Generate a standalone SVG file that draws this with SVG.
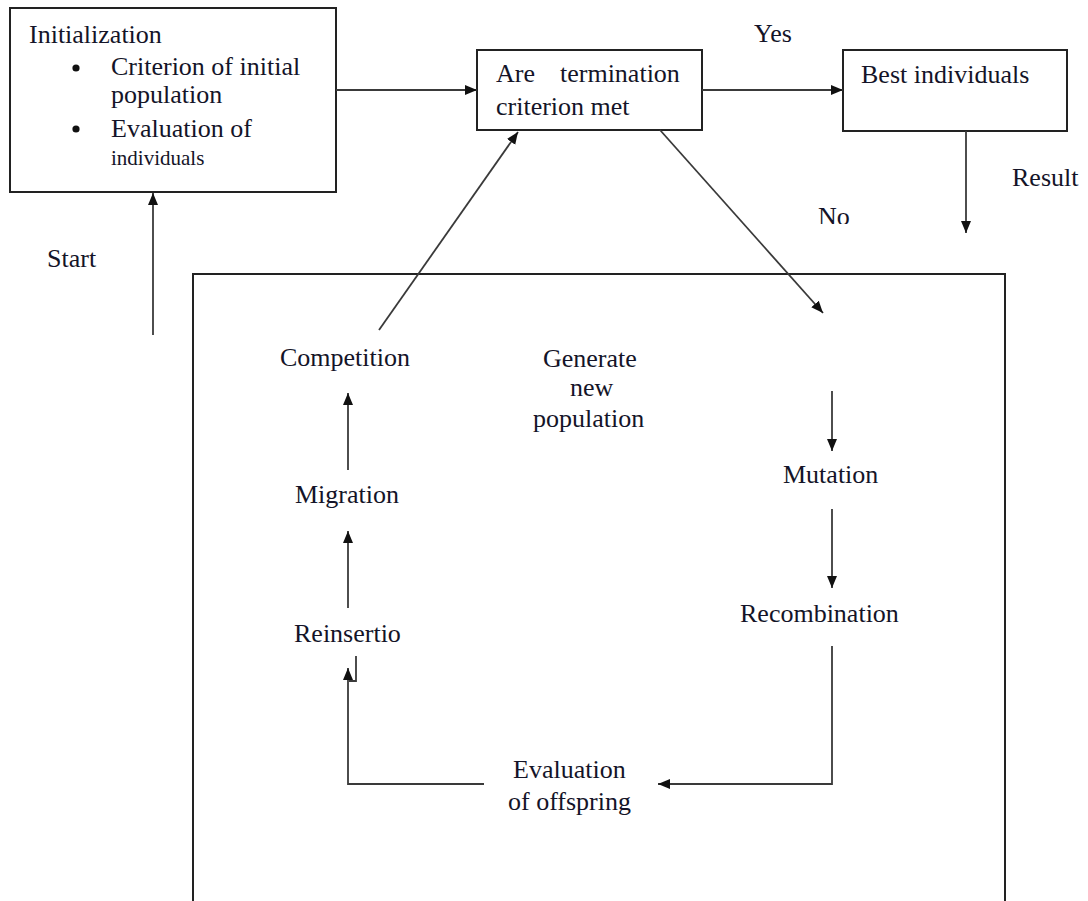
<svg xmlns="http://www.w3.org/2000/svg" width="1088" height="901" viewBox="0 0 1088 901">
  <style>
    .box { fill: #ffffff; stroke: #222222; stroke-width: 2; }
    .frame { fill: none; stroke: #222222; stroke-width: 2; }
    .edge { fill: none; stroke: #3a3a3a; stroke-width: 1.8; }
  </style>
  <defs>
    <marker id="arrow" markerUnits="userSpaceOnUse" markerWidth="12" markerHeight="12" refX="12" refY="6" orient="auto">
      <path d="M0,1 L12,6 L0,11 z" fill="#111111"/>
    </marker>
    <clipPath id="clipNo">
      <rect x="800" y="190" width="80" height="34"/>
    </clipPath>
  </defs>

  <rect width="1088" height="901" fill="#ffffff"/>

  <!-- outer frame around the generation loop (open at the bottom) -->
  <path class="frame" d="M193,905 V274 H1005 V905"/>

  <!-- initialization box -->
  <g id="init">
    <rect class="box" x="10" y="8" width="326" height="184"/>
    <text font-family="Liberation Serif" font-size="26" fill="#141428" x="29" y="43">Initialization</text>
    <circle cx="76" cy="68" r="3.6" fill="#111111"/>
    <text font-family="Liberation Serif" font-size="26" fill="#141428" x="111" y="75">Criterion of initial</text>
    <text font-family="Liberation Serif" font-size="26" fill="#141428" x="111" y="103">population</text>
    <circle cx="76" cy="129" r="3.6" fill="#111111"/>
    <text font-family="Liberation Serif" font-size="26" fill="#141428" x="111" y="137">Evaluation of</text>
    <text font-family="Liberation Serif" font-size="21" fill="#141428" x="111" y="165">individuals</text>
  </g>

  <!-- termination test -->
  <g id="termination">
    <rect class="box" x="477" y="50" width="225" height="80"/>
    <text font-family="Liberation Serif" font-size="26" fill="#141428" x="496" y="82">Are</text>
    <text font-family="Liberation Serif" font-size="26" fill="#141428" x="560" y="82">termination</text>
    <text font-family="Liberation Serif" font-size="26" fill="#141428" x="496" y="115">criterion met</text>
  </g>

  <!-- best individuals -->
  <g id="best">
    <rect class="box" x="843" y="50" width="224" height="81"/>
    <text font-family="Liberation Serif" font-size="26" fill="#141428" x="861" y="83">Best individuals</text>
  </g>

  <!-- loop steps -->
  <g id="competition"><text font-family="Liberation Serif" font-size="26" fill="#141428" x="280" y="366">Competition</text></g>
  <g id="generate">
    <text font-family="Liberation Serif" font-size="26" fill="#141428" x="543" y="367">Generate</text>
    <text font-family="Liberation Serif" font-size="26" fill="#141428" x="570" y="396">new</text>
    <text font-family="Liberation Serif" font-size="26" fill="#141428" x="533" y="427">population</text>
  </g>
  <g id="migration"><text font-family="Liberation Serif" font-size="26" fill="#141428" x="295" y="503">Migration</text></g>
  <g id="reinsertion"><text font-family="Liberation Serif" font-size="26" fill="#141428" x="294" y="642">Reinsertio</text></g>
  <g id="mutation"><text font-family="Liberation Serif" font-size="26" fill="#141428" x="783" y="483">Mutation</text></g>
  <g id="recombination"><text font-family="Liberation Serif" font-size="26" fill="#141428" x="740" y="622">Recombination</text></g>
  <g id="evaluation">
    <text font-family="Liberation Serif" font-size="26" fill="#141428" x="513" y="778">Evaluation</text>
    <text font-family="Liberation Serif" font-size="26" fill="#141428" x="508" y="810">of offspring</text>
  </g>

  <!-- edge labels -->
  <g id="labels">
    <text font-family="Liberation Serif" font-size="26" fill="#141428" x="754" y="42">Yes</text>
    <text font-family="Liberation Serif" font-size="26" fill="#141428" x="1012" y="186">Result</text>
    <text font-family="Liberation Serif" font-size="26" fill="#141428" x="818" y="225" clip-path="url(#clipNo)">No</text>
    <text font-family="Liberation Serif" font-size="26" fill="#141428" x="47" y="267">Start</text>
  </g>

  <!-- connectors -->
  <g id="connectors">
    <line class="edge" x1="336" y1="90" x2="477" y2="90" marker-end="url(#arrow)"/>
    <line class="edge" x1="702" y1="90" x2="843" y2="90" marker-end="url(#arrow)"/>
    <line class="edge" x1="966" y1="131" x2="966" y2="233" marker-end="url(#arrow)"/>
    <line class="edge" x1="153" y1="335" x2="153" y2="193" marker-end="url(#arrow)"/>
    <line class="edge" x1="379" y1="330" x2="518" y2="132" marker-end="url(#arrow)"/>
    <line class="edge" x1="660" y1="130" x2="823" y2="313" marker-end="url(#arrow)"/>
    <line class="edge" x1="832" y1="391" x2="832" y2="451" marker-end="url(#arrow)"/>
    <line class="edge" x1="832" y1="509" x2="832" y2="588" marker-end="url(#arrow)"/>
    <polyline class="edge" points="832,646 832,784 658,784" marker-end="url(#arrow)"/>
    <polyline class="edge" points="484,784 348,784 348,668" marker-end="url(#arrow)"/>
    <polyline class="edge" points="349,681 356,681 356,656"/>
    <line class="edge" x1="348" y1="608" x2="348" y2="531" marker-end="url(#arrow)"/>
    <line class="edge" x1="348" y1="470" x2="348" y2="393" marker-end="url(#arrow)"/>
  </g>
</svg>
